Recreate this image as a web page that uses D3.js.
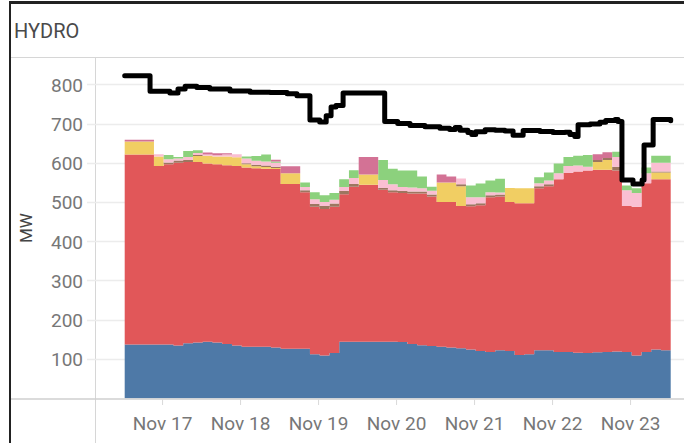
<!DOCTYPE html>
<html><head><meta charset="utf-8">
<script src="https://cdn.jsdelivr.net/npm/d3@7"></script>
<style>
html,body{margin:0;padding:0;background:#fff;}
svg{display:block;font-family:Roboto,"Noto Sans",sans-serif;}
</style></head><body>
<svg id="c" width="684" height="443"></svg>
<script>
// ---- data ----
const title = "HYDRO";
const yAxisTitle = "MW";
const startTime = new Date(2023, 10, 16, 12, 30);
const endTime = new Date(2023, 10, 23, 12, 30);
// hours from start for each 3-hour stack step
const stepHours = [0,3,6,9,12,15,18,21,24,27,30,33,36,39,42,45,48,51,54,57,60,63,66,69,72,75,78,81,84,87,90,93,96,99,102,105,108,111,114,117,120,123,126,129,132,135,138,141,144,147,150,153,156,159,162,165,168];
const seriesBlue = [137,137,137,137,137,134,140,142,144,142,138,134,131,131,131,129,126,126,126,112,109,115,144,144,144,144,144,144,143,138,135,133,131,129,127,124,120,118,122,120,110,112,122,122,118,118,116,115,117,118,119,118,109,118,124,122];
const seriesRed = [484,484,484,455,459,466,462,460,454,454,456,458,457,455,454,455,420,420,399,376,373,373,376,395,400,400,387,381,380,384,387,381,369,371,363,365,372,394,392,380,387,385,413,418,440,456,462,465,465,464,461,372,379,430,434,436];
const seriesYellow = [33,33,33,24,0,0,0,15,20,20,22,22,8,5,4,3,27,27,0,0,0,0,0,0,26,26,0,0,0,0,0,0,50,50,50,0,0,0,0,36,38,38,0,0,0,0,0,0,20,25,0,0,0,0,17,17];
const seriesBrown = [0,0,0,0,5,6,5,3,0,0,0,0,3,4,4,3,0,0,5,7,8,8,8,7,0,0,5,5,5,5,5,5,0,0,5,5,5,5,5,0,0,0,5,5,0,0,0,0,5,5,10,0,0,0,3,3];
const seriesPink = [0,0,0,6,8,5,8,5,3,3,5,8,12,10,10,10,0,0,8,12,10,10,10,15,0,0,20,15,10,10,8,10,0,0,15,18,15,8,5,0,0,0,8,10,15,18,15,10,0,0,25,40,35,25,22,22];
const seriesGreen = [0,0,0,0,11,4,15,7,0,0,0,0,5,12,18,3,0,0,12,18,17,17,20,20,0,0,51,40,42,43,30,10,0,0,0,30,35,30,35,0,0,0,15,20,25,23,25,30,0,0,13,12,12,15,18,18];
const seriesMagenta = [5,5,5,0,0,0,0,0,5,5,3,0,0,0,0,5,18,18,0,0,0,0,0,0,45,45,0,0,0,0,0,0,20,15,0,0,0,0,0,0,0,0,0,0,0,0,0,0,15,15,0,0,0,0,0,0];
// black line (step line)
const lineHours = [0,7.8,13.9,16.4,18.6,22.2,26.2,32.4,38.6,44.7,50,53,57,60,62,63.5,65,67.2,80,84,87.8,92.4,97,100,101.7,103.2,105.6,106.8,108,110.9,114,117,119.5,122.6,127.8,131.8,135.5,137,138.5,139.5,143.2,146.2,148,150.9,151.8,153,156.4,159.2,159.8,162.6,168];
const lineValues = [822,782,778,788,795,792,788,783,780,779,776,771,709,704,720,742,746,778,705,700,695,692,688,685,690,683,677,672,679,684,683,681,670,682,680,677,678,672,667,697,699,703,708,710,705,556,546,556,645,710,707];
const yTicks = [100,200,300,400,500,600,700,800];
const xTickDays = [17,18,19,20,21,22,23];

const keys = ["blue","red","yellow","brown","pink","green","magenta"];
const colors = {blue:"#4e79a7",red:"#e15759",yellow:"#f1ce63",brown:"#9d7660",pink:"#fabfd2",green:"#8cd17d",magenta:"#d37295"};
const srcs = {blue:seriesBlue,red:seriesRed,yellow:seriesYellow,brown:seriesBrown,pink:seriesPink,green:seriesGreen,magenta:seriesMagenta};

const hourToDate = h => new Date(startTime.getTime() + h*3600000);
const rows = stepHours.map((h,i)=>{
  const j = Math.min(i, seriesBlue.length-1);
  const r = {t: hourToDate(h)};
  keys.forEach(k => r[k] = srcs[k][j]);
  return r;
});
const lineData = lineHours.map((h,i)=>({t:hourToDate(h), v:lineValues[i]}));

// ---- layout ----
const svg = d3.select("#c");
const W = 684, H = 443;
const x = d3.scaleTime().domain([startTime,endTime]).range([124.7,670.7]);
const y = d3.scaleLinear().domain([0,800]).range([398.2,84.3]);

// frame
svg.append("rect").attr("width",W).attr("height",H).attr("fill","#fff");
svg.append("line").attr("x1",10).attr("x2",W).attr("y1",2.5).attr("y2",2.5).attr("stroke","#222").attr("stroke-width",3);
svg.append("line").attr("x1",10).attr("x2",10).attr("y1",1).attr("y2",H).attr("stroke","#222").attr("stroke-width",2);
svg.append("line").attr("x1",11).attr("x2",W).attr("y1",57.5).attr("y2",57.5).attr("stroke","#d6d6d6");
svg.append("line").attr("x1",95.5).attr("x2",95.5).attr("y1",58).attr("y2",H).attr("stroke","#d6d6d6");

svg.append("text").attr("x",14).attr("y",38).attr("font-size",20).attr("fill","#4a4a4a").text(title);

// gridlines
svg.append("g").selectAll("line").data(yTicks).join("line")
  .attr("x1",87).attr("x2",W).attr("y1",d=>Math.round(y(d))+0.5).attr("y2",d=>Math.round(y(d))+0.5)
  .attr("stroke","#ececec").attr("stroke-width",1.5);

// stacked areas
const stack = d3.stack().keys(keys);
const layers = stack(rows);
const area = d3.area().curve(d3.curveStepAfter)
  .x(d=>x(d.data.t)).y0(d=>y(d[0])).y1(d=>y(d[1]));
svg.append("g").selectAll("path").data(layers).join("path")
  .attr("d",area).attr("fill",d=>colors[d.key]);

// bottom line of pane
svg.append("line").attr("x1",11).attr("x2",W).attr("y1",399).attr("y2",399).attr("stroke","#cfcfcf").attr("stroke-width",1.5);

// black step line
const line = d3.line().curve(d3.curveStepAfter).x(d=>x(d.t)).y(d=>y(d.v));
svg.append("path").datum(lineData).attr("d",line).attr("fill","none")
  .attr("stroke","#000").attr("stroke-width",5).attr("stroke-linejoin","round").attr("stroke-linecap","round");

// y axis labels
const yAxis = d3.axisLeft(y).tickValues(yTicks).tickSize(0).tickPadding(0);
const gy = svg.append("g").attr("transform","translate(83,0)").call(yAxis);
gy.select(".domain").remove();
gy.selectAll("text").attr("font-size",19).attr("font-family","Roboto").attr("fill","#777").attr("dy","0.36em");

svg.append("text").attr("transform","translate(32,228) rotate(-90)").attr("text-anchor","middle")
  .attr("font-size",17).attr("fill","#444").text(yAxisTitle);

// x axis
const tickDates = xTickDays.map(d=>new Date(2023,10,d));
const xAxis = d3.axisBottom(x).tickValues(tickDates).tickFormat(d3.timeFormat("%b %-d")).tickSize(6).tickPadding(0);
const gx = svg.append("g").attr("transform","translate(0,399)").call(xAxis);
gx.select(".domain").remove();
gx.selectAll(".tick line").attr("stroke","#d9d9d9");
gx.selectAll("text").attr("font-size",19).attr("font-family","Roboto").attr("fill","#777").attr("y",31).attr("dy",0);
</script>
</body></html>
